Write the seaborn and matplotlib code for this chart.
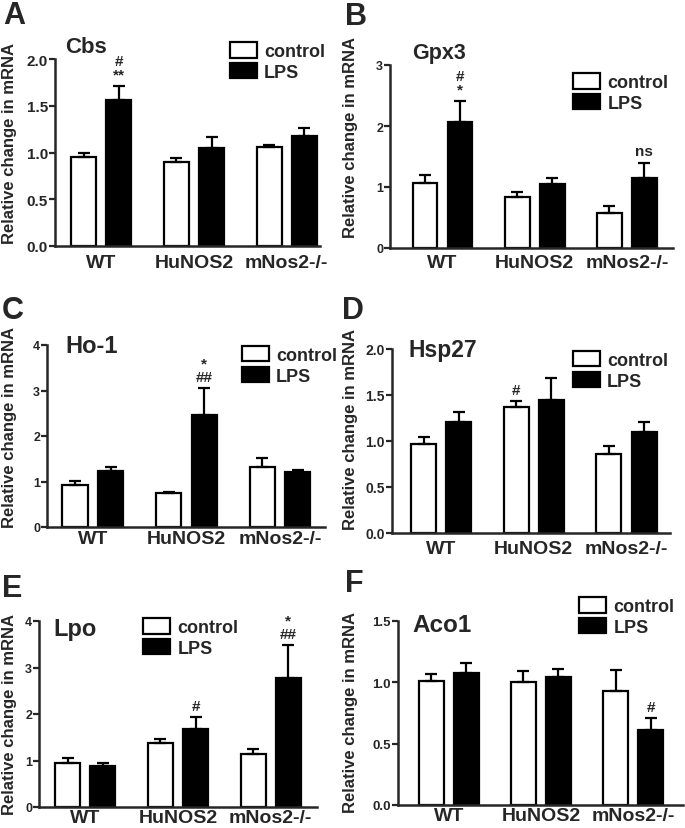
import pandas as pd
import seaborn as sns
import matplotlib.pyplot as plt
from matplotlib.patches import Patch

groups = ['WT', 'HuNOS2', 'mNos2-/-']
treatments = ['control', 'LPS']

# mean / SEM, order: WT, HuNOS2, mNos2-/-
cbs_ctrl = [0.95, 0.90, 1.06]
cbs_ctrl_err = [0.05, 0.04, 0.02]
cbs_lps = [1.56, 1.05, 1.18]
cbs_lps_err = [0.15, 0.12, 0.08]

gpx3_ctrl = [1.07, 0.84, 0.57]
gpx3_ctrl_err = [0.13, 0.08, 0.12]
gpx3_lps = [2.06, 1.05, 1.15]
gpx3_lps_err = [0.35, 0.10, 0.25]

ho1_ctrl = [0.92, 0.75, 1.32]
ho1_ctrl_err = [0.10, 0.01, 0.20]
ho1_lps = [1.23, 2.47, 1.20]
ho1_lps_err = [0.09, 0.58, 0.05]

hsp27_ctrl = [0.97, 1.37, 0.86]
hsp27_ctrl_err = [0.07, 0.06, 0.09]
hsp27_lps = [1.21, 1.45, 1.10]
hsp27_lps_err = [0.10, 0.23, 0.11]

lpo_ctrl = [0.95, 1.37, 1.13]
lpo_ctrl_err = [0.10, 0.10, 0.12]
lpo_lps = [0.88, 1.68, 2.78]
lpo_lps_err = [0.06, 0.25, 0.70]

aco1_ctrl = [1.01, 1.00, 0.93]
aco1_ctrl_err = [0.06, 0.09, 0.17]
aco1_lps = [1.08, 1.04, 0.61]
aco1_lps_err = [0.08, 0.07, 0.10]

panels = [
    dict(letter='A', gene='Cbs', ctrl=cbs_ctrl, ctrl_err=cbs_ctrl_err, lps=cbs_lps, lps_err=cbs_lps_err,
         ylim=2.0, yticks=[0.0, 0.5, 1.0, 1.5, 2.0], fmt='{:.1f}',
         marks=[(0, 1, '#\n**')]),
    dict(letter='B', gene='Gpx3', ctrl=gpx3_ctrl, ctrl_err=gpx3_ctrl_err, lps=gpx3_lps, lps_err=gpx3_lps_err,
         ylim=3, yticks=[0, 1, 2, 3], fmt='{:d}',
         marks=[(0, 1, '#\n*'), (2, 1, 'ns')]),
    dict(letter='C', gene='Ho-1', ctrl=ho1_ctrl, ctrl_err=ho1_ctrl_err, lps=ho1_lps, lps_err=ho1_lps_err,
         ylim=4, yticks=[0, 1, 2, 3, 4], fmt='{:d}',
         marks=[(1, 1, '*\n##')]),
    dict(letter='D', gene='Hsp27', ctrl=hsp27_ctrl, ctrl_err=hsp27_ctrl_err, lps=hsp27_lps, lps_err=hsp27_lps_err,
         ylim=2.0, yticks=[0.0, 0.5, 1.0, 1.5, 2.0], fmt='{:.1f}',
         marks=[(1, 0, '#')]),
    dict(letter='E', gene='Lpo', ctrl=lpo_ctrl, ctrl_err=lpo_ctrl_err, lps=lpo_lps, lps_err=lpo_lps_err,
         ylim=4, yticks=[0, 1, 2, 3, 4], fmt='{:d}',
         marks=[(1, 1, '#'), (2, 1, '*\n##')]),
    dict(letter='F', gene='Aco1', ctrl=aco1_ctrl, ctrl_err=aco1_ctrl_err, lps=aco1_lps, lps_err=aco1_lps_err,
         ylim=1.5, yticks=[0.0, 0.5, 1.0, 1.5], fmt='{:.1f}',
         marks=[(2, 1, '#')]),
]

# layout in pixels of the 685x829 picture
W, H = 685, 829
# axes box: left, right, top, bottom
boxes = [(55, 320, 60, 247), (390, 673, 66, 249), (47, 325, 346, 528),
         (392, 670, 350, 534), (39, 317, 622, 808), (398, 683, 622, 806)]
xlims = [(-0.5, 2.36), (-0.57, 2.5), (-0.49, 2.48), (-0.53, 2.47), (-0.5, 2.5), (-0.55, 2.54)]
# panel letters: left edge and baseline
letter_xy = [(3, 24), (345, 25), (2, 319), (342, 319), (2, 597), (345, 592)]
ylab_xy = [(17, 144), (358, 137), (17, 427), (358, 429), (17, 715), (358, 713)]
gene_xy = [(0.04, 1.04), (0.078, 1.04), (0.065, 0.96), (0.058, 0.96), (0.05, 0.925), (0.05, 0.945)]
gene_size = [16, 15.5, 17, 16.5, 17, 17.5]
leg_xy = [(0.66, 1.09), (0.647, 0.956), (0.70, 0.995), (0.65, 0.99), (0.375, 1.016), (0.635, 1.13)]
ytick_size = [11, 9, 9, 10, 9, 9.5]
xtick_pad = [5.5, 4, 2, 5, 1.5, 1.5]

sns.set_style('ticks')
plt.rcParams['font.family'] = ['Liberation Sans', 'DejaVu Sans']

fig = plt.figure(figsize=(W / 100, H / 100), dpi=100)

for i, p in enumerate(panels):
    l, r, t, b = boxes[i]
    ax = fig.add_axes([l / W, 1 - b / H, (r - l) / W, (b - t) / H])

    df = pd.DataFrame({
        'group': groups * 2,
        'treatment': ['control'] * 3 + ['LPS'] * 3,
        'value': p['ctrl'] + p['lps'],
    })
    sns.barplot(data=df, x='group', y='value', hue='treatment', order=groups, hue_order=treatments,
                palette={'control': 'white', 'LPS': 'black'}, edgecolor='black', linewidth=1.6,
                width=0.76, gap=0.29, errorbar=None, legend=False, ax=ax)

    means = [p['ctrl'], p['lps']]
    errs = [p['ctrl_err'], p['lps_err']]
    for k, cont in enumerate(ax.containers[:2]):
        for bar, m, e in zip(cont, means[k], errs[k]):
            x = bar.get_x() + bar.get_width() / 2
            ax.errorbar(x, m, yerr=[[0], [e]], color='black', capsize=4, elinewidth=1.6,
                        capthick=1.6, zorder=1)

    for gi, hi, txt in p['marks']:
        bar = ax.containers[hi][gi]
        x = bar.get_x() + bar.get_width() / 2
        top = means[hi][gi] + errs[hi][gi]
        ax.annotate(txt, (x, top), xytext=(0, 3), textcoords='offset points', ha='center',
                    va='bottom', fontsize=11, fontweight='bold', linespacing=0.95)

    ax.set_xlim(*xlims[i])
    ax.set_ylim(0, p['ylim'])
    ax.set_yticks(p['yticks'])
    ax.set_yticklabels([p['fmt'].format(v) for v in p['yticks']], fontsize=ytick_size[i],
                       fontweight='bold')
    ax.set_xticks(range(3))
    ax.set_xticklabels(groups, fontsize=14, fontweight='bold')
    ax.tick_params(axis='x', length=0, pad=xtick_pad[i])
    ax.tick_params(axis='y', length=4, width=1.6, pad=1)
    ax.set_xlabel('')
    ax.set_ylabel('Relative change in mRNA', fontsize=12, fontweight='bold')
    ax.yaxis.set_label_coords(ylab_xy[i][0] / W, 1 - ylab_xy[i][1] / H, transform=fig.transFigure)
    for s in ['left', 'bottom']:
        ax.spines[s].set_linewidth(1.8)
    sns.despine(ax=ax)

    ax.text(gene_xy[i][0], gene_xy[i][1], p['gene'], transform=ax.transAxes, fontsize=gene_size[i],
            fontweight='bold', ha='left', va='baseline')

    handles = [Patch(facecolor='white', edgecolor='black', linewidth=1.6),
               Patch(facecolor='black', edgecolor='black', linewidth=1.6)]
    ax.legend(handles, treatments, loc='upper left', bbox_to_anchor=leg_xy[i], frameon=False,
              borderaxespad=0, borderpad=0, handlelength=1.5, handleheight=0.95,
              handletextpad=0.4, labelspacing=0.15, prop={'size': 13, 'weight': 'bold'})

    fig.text(letter_xy[i][0] / W, 1 - letter_xy[i][1] / H, p['letter'], fontsize=22,
             fontweight='bold', ha='left', va='baseline')

fig.savefig('out.png', dpi=100)
